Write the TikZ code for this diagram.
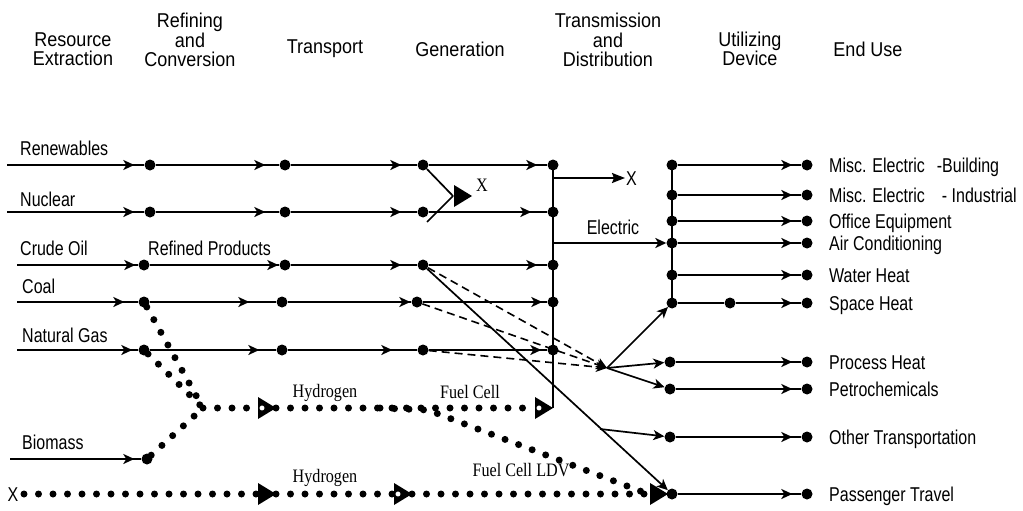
\documentclass[tikz,border=0pt]{standalone}
\usepackage{fontspec}
\setmainfont{Liberation Sans}
\newfontfamily\headfont[FakeStretch=0.9]{Liberation Sans}
\newfontfamily\labfont[FakeStretch=0.8]{Liberation Sans}
\newfontfamily\serfont[FakeStretch=0.85]{Liberation Serif}
\usetikzlibrary{arrows.meta,decorations.markings}

\tikzset{
  flow/.style={line width=2pt},
  slim/.style={line width=1.7pt},
  dot/.style={circle,fill,inner sep=0pt,minimum size=11pt},
  hole/.style={circle,draw,fill=white,line width=0.7pt,inner sep=0pt,minimum size=6pt},
  tipat/.style={postaction={decorate,decoration={markings,
      mark=at position #1 with {\arrow{Stealth[length=11pt,width=10pt,inset=3pt]}}}}},
  endtip/.style={-{Stealth[length=11pt,width=10pt,inset=3pt]}},
  dotline/.style={line width=7pt,line cap=round,dash pattern=on 0pt off 14.5pt},
  dashline/.style={line width=1.6pt,dash pattern=on 8pt off 5pt},
  heading/.style={font=\headfont\fontsize{20}{19.5}\selectfont,align=center,inner sep=0pt},
  lab/.style={font=\labfont\fontsize{20}{18}\selectfont,anchor=base west,inner sep=0pt},
  serlab/.style={font=\serfont\fontsize{19}{18}\selectfont,inner sep=0pt},
}
% filled triangle whose tip is at the given coordinate, pointing right
\newcommand\flowtri[1]{\fill (#1) -- ++(-18,-11) -- ++(0,22) -- cycle;}

\begin{document}
\begin{tikzpicture}[x=1pt,y=-1pt]
\useasboundingbox (0,0) rectangle (1023,511);

% ---------- column headings ----------
\node[heading] (hRes) at (73,49) {Resource\\Extraction};
\node[heading] (hRef) at (190,40) {Refining\\and\\Conversion};
\node[heading] (hTra) at (325,49) {Transport};
\node[heading] (hGen) at (460,49) {Generation};
\node[heading] (hTD)  at (608,40) {Transmission\\and\\Distribution};
\node[heading] (hUti) at (750,49) {Utilizing\\Device};
\node[heading] (hEnd) at (868,49) {End Use};

% ---------- resource rows ----------
\coordinate (ren0) at (7,165);
\coordinate (nuc0) at (7,212);
\coordinate (cru0) at (17,265);
\coordinate (coa0) at (17,302);
\coordinate (gas0) at (17,350);
\coordinate (bio0) at (10,459);

\node[dot] (ren1) at (150,165) {};
\node[dot] (ren2) at (285,165) {};
\node[dot] (ren3) at (423,165) {};
\node[dot] (ren4) at (553,165) {};
\node[dot] (nuc1) at (150,212) {};
\node[dot] (nuc2) at (285,212) {};
\node[dot] (nuc3) at (423,212) {};
\node[dot] (nuc4) at (553,212) {};
\node[dot] (cru1) at (144,265) {};
\node[dot] (cru2) at (285,265) {};
\node[dot] (cru3) at (423,265) {};
\node[dot] (cru4) at (553,265) {};
\node[dot] (coa1) at (144,302) {};
\node[dot] (coa2) at (282,302) {};
\node[dot] (coa3) at (417,302) {};
\node[dot] (coa4) at (553,302) {};
\node[dot] (gas1) at (144,350) {};
\node[dot] (gas2) at (282,350) {};
\node[dot] (gas3) at (423,350) {};
\node[dot] (gas4) at (553,350) {};
\node[dot] (bio1) at (147,459) {};

\node[lab] (lRen) at (20,155) {Renewables};
\node[lab] (lNuc) at (20,206) {Nuclear};
\node[lab] (lCru) at (20,255) {Crude Oil};
\node[lab] (lRef) at (148,255) {Refined Products};
\node[lab] (lCoa) at (22,293) {Coal};
\node[lab] (lGas) at (22,342) {Natural Gas};
\node[lab] (lBio) at (22,449) {Biomass};

\draw[flow,tipat=-10pt] (ren0) -- (ren1);
\draw[flow,tipat=-14pt] (ren1) -- (ren2);
\draw[flow,tipat=-16pt] (ren2) -- (ren3);
\draw[flow,tipat=-10pt] (ren3) -- (ren4);

\draw[flow,tipat=-10pt] (nuc0) -- (nuc1);
\draw[flow,tipat=-14pt] (nuc1) -- (nuc2);
\draw[flow,tipat=-16pt] (nuc2) -- (nuc3);
\draw[flow,tipat=-16pt] (nuc3) -- (nuc4);

\draw[flow,tipat=-3pt] (cru0) -- (cru1);
\draw[flow,tipat=-1pt] (cru1) -- (cru2);
\draw[flow,tipat=-16pt] (cru2) -- (cru3);
\draw[flow,tipat=-10pt] (cru3) -- (cru4);

\draw[flow,tipat=-14pt] (coa0) -- (coa1);
\draw[flow,tipat=-27pt] (coa1) -- (coa2);
\draw[flow,tipat=-1pt] (coa2) -- (coa3);
\draw[flow,tipat=-5pt] (coa3) -- (coa4);

\draw[flow,tipat=-6pt] (gas0) -- (gas1);
\draw[flow,tipat=-17pt] (gas1) -- (gas2);
\draw[flow,tipat=-25pt] (gas2) -- (gas3);
\draw[flow,tipat=-6pt] (gas3) -- (gas4);

\draw[flow,tipat=-7pt] (bio0) -- (bio1);

% ---------- generation bypass to X ----------
\coordinate (xmeet) at (453,196);
\coordinate (xlow) at (427,222);
\coordinate (xtip) at (472,196);
\draw[slim] (ren3) -- (xmeet);
\draw[slim] (xlow) -- (xmeet);
\flowtri{xtip}
\node[serlab] (xGen) at (482,185) {X};

% ---------- transmission bus ----------
\coordinate (fctip) at (553,408);
\draw[flow] (ren4.center) -- (fctip);
\coordinate (bx) at (553,178);
\coordinate (bxend) at (625,178);
\draw[flow,-{Stealth[length=13pt,width=10pt,inset=2pt]}] (bx) -- (bxend);
\node[lab,anchor=west] (xOut) at (626,179) {X};
\coordinate (be) at (553,243);

% ---------- utilizing devices and end uses ----------
\node[dot] (u1) at (672,165) {};
\node[dot] (u2) at (672,195) {};
\node[dot] (u3) at (672,221) {};
\node[dot] (u4) at (672,243) {};
\node[dot] (u5) at (672,275) {};
\node[dot] (u6) at (672,303) {};
\node[dot] (sh) at (730,303) {};
\node[dot] (p1) at (670,362) {};
\node[dot] (p2) at (670,389) {};
\node[dot] (o1) at (670,437) {};
\node[dot] (pt) at (672,494) {};

\node[dot] (e1) at (807,165) {};
\node[dot] (e2) at (807,195) {};
\node[dot] (e3) at (807,221) {};
\node[dot] (e4) at (807,243) {};
\node[dot] (e5) at (807,275) {};
\node[dot] (e6) at (807,303) {};
\node[dot] (e7) at (807,362) {};
\node[dot] (e8) at (807,389) {};
\node[dot] (e9) at (807,437) {};
\node[dot] (e10) at (807,494) {};

\draw[flow] (u1.center) -- (u6.center);
\draw[flow,endtip] (be) -- (u4);
\node[lab,anchor=center] (lEle) at (613,227) {Electric};

\draw[flow,tipat=-9pt] (u1) -- (e1);
\draw[flow,tipat=-9pt] (u2) -- (e2);
\draw[flow,tipat=-9pt] (u3) -- (e3);
\draw[flow,tipat=-9pt] (u4) -- (e4);
\draw[flow,tipat=-9pt] (u5) -- (e5);
\draw[flow] (u6) -- (sh);
\draw[flow,tipat=-9pt] (sh) -- (e6);
\draw[flow,tipat=-9pt] (p1) -- (e7);
\draw[flow,tipat=-9pt] (p2) -- (e8);
\draw[flow,tipat=-9pt] (o1) -- (e9);
\draw[flow,tipat=-9pt] (pt) -- (e10);

\node[lab] (t1) at (829,172) {Misc. Electric\hspace{12pt}-Building};
\node[lab] (t2) at (829,202) {Misc. Electric\hspace{17pt}- Industrial};
\node[lab] (t3) at (829,228) {Office Equipment};
\node[lab] (t4) at (829,250) {Air Conditioning};
\node[lab] (t5) at (829,282) {Water Heat};
\node[lab] (t6) at (829,310) {Space Heat};
\node[lab] (t7) at (829,369) {Process Heat};
\node[lab] (t8) at (829,396) {Petrochemicals};
\node[lab] (t9) at (829,444) {Other Transportation};
\node[lab] (t10) at (829,501) {Passenger Travel};

% ---------- fuels routed around the grid ----------
\coordinate (jn) at (607,368);
\draw[dashline,endtip] (cru3) -- (jn);
\draw[dashline,endtip] (coa3) -- (jn);
\draw[dashline,endtip] (gas3) -- (jn);
\draw[slim,endtip] (jn) -- (u6);
\draw[slim,endtip] (jn) -- (p1);
\draw[slim,endtip] (jn) -- (p2);

\coordinate (otstart) at (600,429);
\draw[slim,endtip] (cru3) -- (pt);
\draw[slim,endtip] (otstart) -- (o1);

% ---------- hydrogen paths ----------
\coordinate (hm) at (203,408);
\coordinate (h1) at (276,408);
\coordinate (h1b) at (258,408);
\coordinate (hfork) at (380,408);
\coordinate (hbend) at (428,410);
\coordinate (fcb) at (535,408);
\coordinate (ldv) at (648,494);
\draw[dotline] (coa1) -- (hm);
\draw[dotline] (gas1) -- (hm);
\draw[dotline] (bio1) -- (hm);
\draw[dotline] (hm) -- (h1b);
\draw[dotline] (h1) -- (fcb);
\draw[dotline] (hfork) -- (hbend) -- (ldv);
\flowtri{h1}
\node[hole] (h1o) at (262,408) {};
\flowtri{fctip}
\node[hole] (fco) at (539,408) {};
\node[serlab] (lH1) at (325,393) {Hydrogen};
\node[serlab] (lFC) at (470,392) {Fuel Cell};
\node[serlab] (lLDV) at (521,470) {Fuel Cell LDV};

\coordinate (xb) at (24,494);
\coordinate (b1) at (276,494);
\coordinate (b1b) at (258,494);
\coordinate (b2) at (412,494);
\coordinate (b2b) at (394,494);
\coordinate (b3) at (668,494);
\coordinate (b3b) at (650,494);
\node[lab,anchor=center] (xIn) at (13,495) {X};
\draw[dotline] (xb) -- (b1b);
\draw[dotline] (b1) -- (b2b);
\draw[dotline] (b2) -- (b3b);
\flowtri{b1}
\flowtri{b2}
\node[hole] (b2o) at (398,494) {};
\flowtri{b3}
\node[serlab] (lH2) at (325,478) {Hydrogen};
\end{tikzpicture}
\end{document}
